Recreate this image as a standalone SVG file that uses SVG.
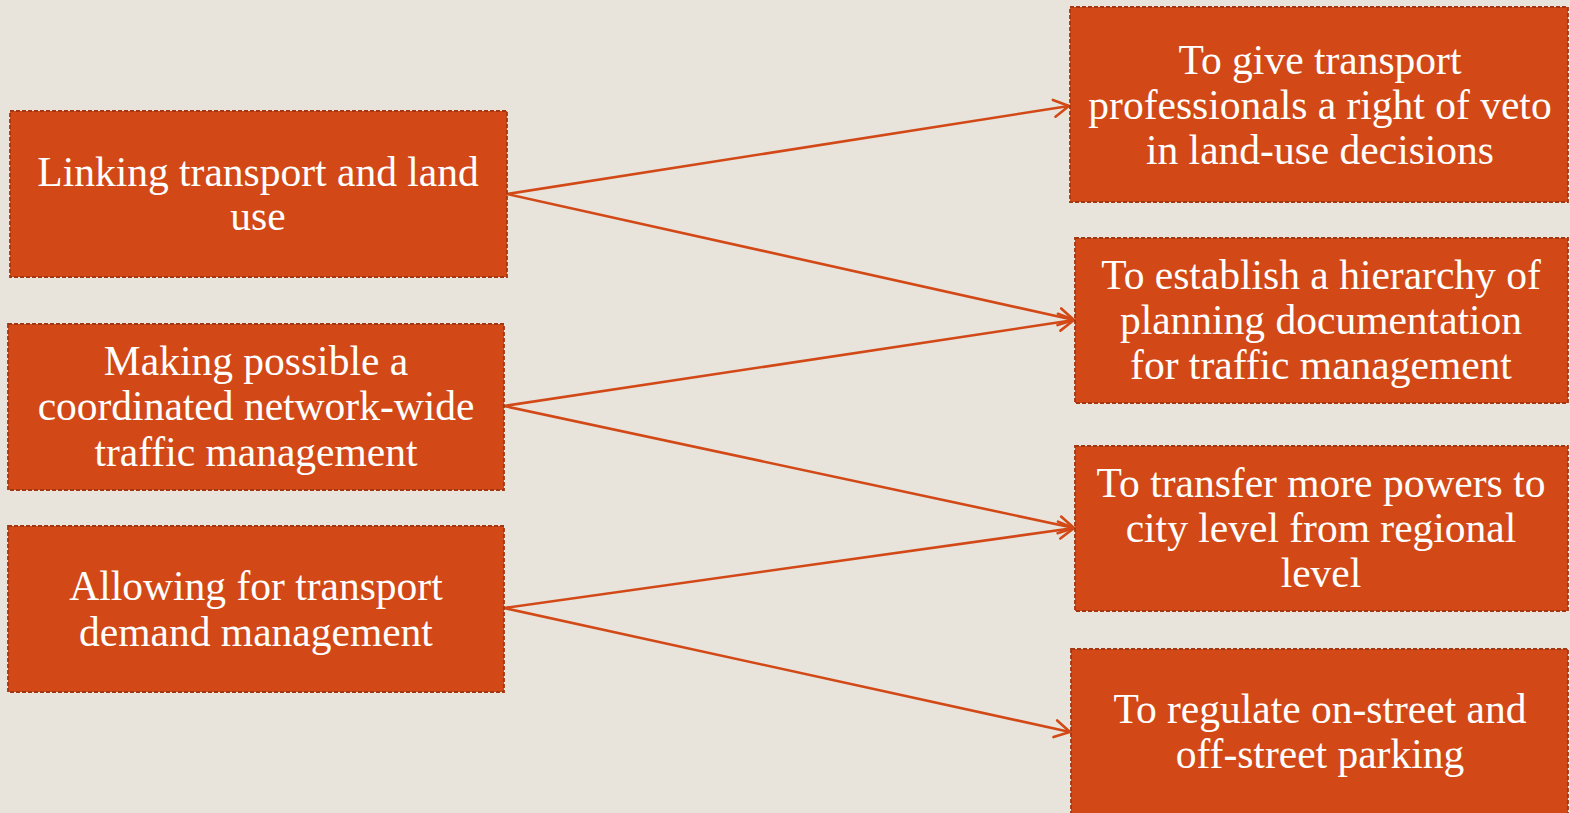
<svg xmlns="http://www.w3.org/2000/svg" width="1570" height="813" viewBox="0 0 1570 813">
<style>
.box{fill:#D24917;stroke:#A33712;stroke-width:1.8;stroke-dasharray:4 2}
.lbl{font-family:"Liberation Serif","Times New Roman",serif;font-size:41.5px;fill:#FFFFFF;text-anchor:middle}
.conn{fill:none;stroke:#D24917;stroke-width:2.6}
</style>
<defs>
<marker id="arr" markerUnits="userSpaceOnUse" markerWidth="22" markerHeight="22" refX="17" refY="11" orient="auto" overflow="visible">
<path d="M2,2.5 L17,11 L2,19.5" fill="none" stroke="#D24917" stroke-width="2.6" stroke-linecap="round" stroke-linejoin="miter"/>
</marker>
</defs>
<rect width="1570" height="813" fill="#E8E4DC"/>
<g id="connectors">
<line class="conn" x1="507" y1="194" x2="1069" y2="106" marker-end="url(#arr)"/>
<line class="conn" x1="507" y1="194" x2="1074" y2="320" marker-end="url(#arr)"/>
<line class="conn" x1="504" y1="406" x2="1074" y2="320" marker-end="url(#arr)"/>
<line class="conn" x1="504" y1="406" x2="1074" y2="528" marker-end="url(#arr)"/>
<line class="conn" x1="504" y1="608" x2="1074" y2="528" marker-end="url(#arr)"/>
<line class="conn" x1="504" y1="608" x2="1070" y2="732" marker-end="url(#arr)"/>
</g>
<g id="node-l1">
<rect class="box" x="10" y="111" width="497" height="166"/>
<text class="lbl"><tspan x="258" y="186">Linking transport and land</tspan><tspan x="258" y="230">use</tspan></text>
</g>
<g id="node-l2">
<rect class="box" x="8" y="324" width="496" height="166"/>
<text class="lbl"><tspan x="256" y="375">Making possible a</tspan><tspan x="256" y="420">coordinated network-wide</tspan><tspan x="256" y="466">traffic management</tspan></text>
</g>
<g id="node-l3">
<rect class="box" x="8" y="526" width="496" height="166"/>
<text class="lbl"><tspan x="256" y="600">Allowing for transport</tspan><tspan x="256" y="646">demand management</tspan></text>
</g>
<g id="node-r1">
<rect class="box" x="1070" y="7" width="498" height="195"/>
<text class="lbl"><tspan x="1320" y="74">To give transport</tspan><tspan x="1320" y="119">professionals a right of veto</tspan><tspan x="1320" y="164">in land-use decisions</tspan></text>
</g>
<g id="node-r2">
<rect class="box" x="1075" y="238" width="493" height="165"/>
<text class="lbl"><tspan x="1321" y="289">To establish a hierarchy of</tspan><tspan x="1321" y="334">planning documentation</tspan><tspan x="1321" y="379">for traffic management</tspan></text>
</g>
<g id="node-r3">
<rect class="box" x="1075" y="446" width="493" height="165"/>
<text class="lbl"><tspan x="1321" y="497">To transfer more powers to</tspan><tspan x="1321" y="542">city level from regional</tspan><tspan x="1321" y="587">level</tspan></text>
</g>
<g id="node-r4">
<rect class="box" x="1071" y="649" width="497" height="168"/>
<text class="lbl"><tspan x="1320" y="723">To regulate on-street and</tspan><tspan x="1320" y="768">off-street parking</tspan></text>
</g>
</svg>
